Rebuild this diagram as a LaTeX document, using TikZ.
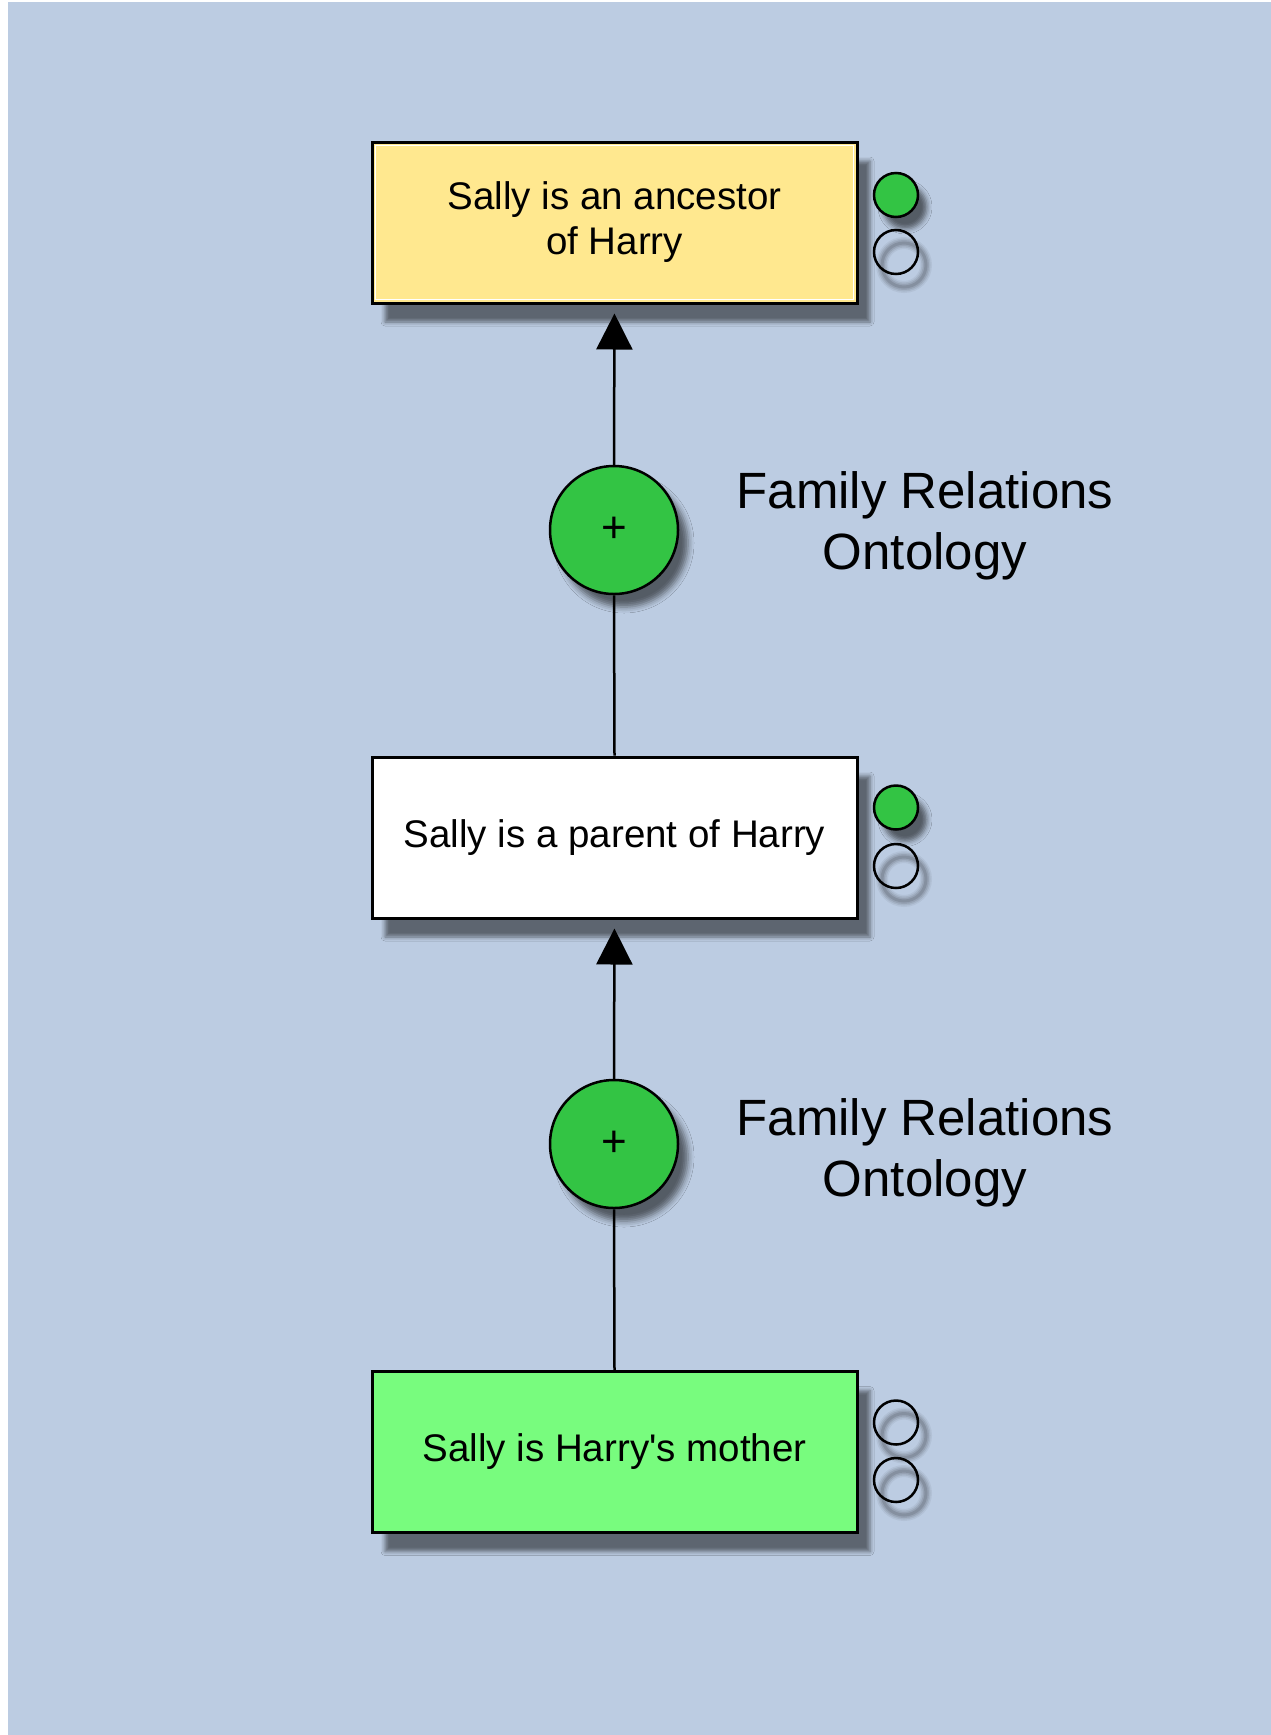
\documentclass[tikz,border=0pt]{standalone}
\usepackage{fontspec}
\setmainfont{Liberation Sans}[Ligatures=TeXOff]
\usetikzlibrary{arrows.meta,shadows.blur}

\definecolor{bgblue}{RGB}{188,204,226}
\definecolor{boxyellow}{RGB}{255,232,143}
\definecolor{boxgreen}{RGB}{120,252,126}
\definecolor{dotgreen}{RGB}{51,196,68}

\tikzset{
  boxshadow/.style={blur shadow={shadow xshift=13pt,shadow yshift=-19pt,shadow blur radius=4pt,shadow opacity=50}},
  claim/.style={draw=black,line width=3pt,rectangle,minimum width=485pt,minimum height=161pt,
    inner sep=0pt,align=center,font=\fontsize{38.5}{45}\selectfont,boxshadow},
  junction/.style={draw=black,line width=2.5pt,circle,minimum size=128pt,inner sep=0pt,
    fill=dotgreen,font=\fontsize{44}{44}\selectfont,
    blur shadow={shadow xshift=10pt,shadow yshift=-13pt,shadow blur radius=6pt,shadow opacity=55}},
  fulldot/.style={draw=black,line width=2.5pt,circle,minimum size=44pt,inner sep=0pt,fill=dotgreen,
    blur shadow={shadow xshift=9pt,shadow yshift=-12pt,shadow blur radius=5pt,shadow opacity=55}},
  emptydot/.style={draw=black,line width=2.5pt,circle,minimum size=44pt,inner sep=0pt},
  conn/.style={draw=black,line width=2.5pt},
  uparrow/.style={conn,-{Triangle[width=36pt,length=36pt]},shorten >=9pt},
  caption/.style={align=center,font=\fontsize{51}{61}\selectfont},
}

% soft ring shadow behind an outlined dot
\newcommand{\ringshadow}[2]{%
  \foreach \w/\o in {12/0.05,9/0.07,6/0.09,3/0.11}{
    \draw[line width=\w pt,black,opacity=\o] (#1+8,#2+13) circle[radius=22];
  }%
}

\begin{document}
\begin{tikzpicture}[x=1pt,y=-1pt]
  \useasboundingbox (0,0) rectangle (1271,1735);
  \fill[white] (0,0) rectangle (1271,1735);
  \fill[bgblue] (8,2) rectangle (1271,1735);

  % argument boxes
  \node[claim,fill=boxyellow] (anc) at (614.5,222.5) {Sally is an ancestor\\of Harry};
  \draw[white,line width=1.5pt] (375.5,145.5) rectangle (853.5,299.5);
  \node[claim,fill=white] (par) at (614.5,837.5) {\raisebox{7pt}{Sally is a parent of Harry}};
  \node[claim,fill=boxgreen] (mot) at (614.5,1452) {\raisebox{5pt}{Sally is Harry's mother}};

  % inference junctions
  \node[junction] (j1) at (614,530) {+};
  \node[junction] (j2) at (614,1144) {+};

  % connectors
  \draw[uparrow] (j1.north) -- (anc.south);
  \draw[conn] (par.north) -- (j1.south);
  \draw[uparrow] (j2.north) -- (par.south);
  \draw[conn] (mot.north) -- (j2.south);

  % status dots
  \node[fulldot] (a1) at (896,195) {};
  \ringshadow{896}{252}
  \node[emptydot] (a2) at (896,252) {};

  \node[fulldot] (p1) at (896,807.5) {};
  \ringshadow{896}{866}
  \node[emptydot] (p2) at (896,866) {};

  \ringshadow{896}{1422.5}
  \node[emptydot] (m1) at (896,1422.5) {};
  \ringshadow{896}{1480}
  \node[emptydot] (m2) at (896,1480) {};

  % scheme labels
  \node[caption] (l1) at (925,526) {Family Relations\\Ontology};
  \node[caption] (l2) at (925,1153) {Family Relations\\Ontology};
\end{tikzpicture}
\end{document}
